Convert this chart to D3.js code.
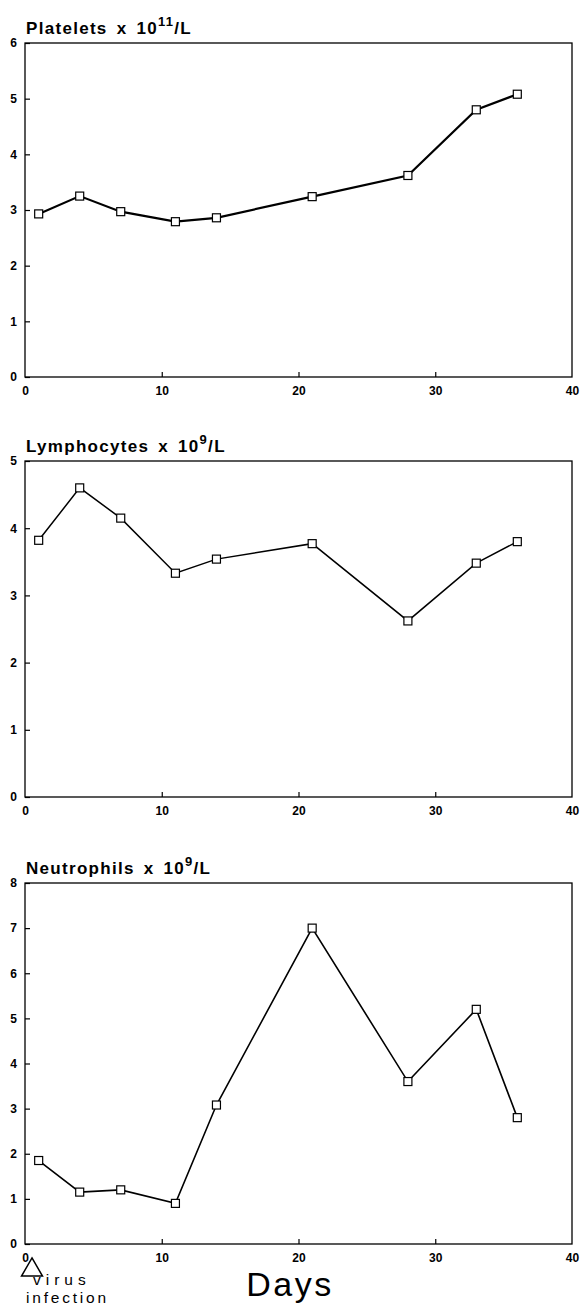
<!DOCTYPE html>
<html>
<head>
<meta charset="utf-8">
<script src="https://cdn.jsdelivr.net/npm/d3@7"></script>
<style>
  body { margin: 0; background: #fff; }
  svg { display: block; }
  text { font-family: "Liberation Sans", Arial, sans-serif; fill: #000; }
</style>
</head>
<body>
<svg width="580" height="1306"></svg>
<script>
// days after infection (same for all three panels)
var days = [1, 4, 7, 11, 14, 21, 28, 33, 36];

var platelets = [2.93, 3.25, 2.97, 2.79, 2.86, 3.24, 3.62, 4.80, 5.08];
var lymphocytes = [3.82, 4.60, 4.15, 3.33, 3.54, 3.77, 2.62, 3.48, 3.80];
var neutrophils = [1.85, 1.15, 1.20, 0.90, 3.08, 7.00, 3.60, 5.20, 2.80];

var titles = ['Platelets x 10', 'Lymphocytes x 10', 'Neutrophils x 10'];
var exponents = ['11', '9', '9'];
var yMax = [6, 5, 8];
var xTicks = [0, 10, 20, 30, 40];

// panel boxes (top and bottom pixel of each plot)
var panels = [
  { values: platelets, top: 43, bottom: 377, lineW: 2.2 },
  { values: lymphocytes, top: 461, bottom: 797, lineW: 1.5 },
  { values: neutrophils, top: 883, bottom: 1244, lineW: 1.6 }
];

var svg = d3.select('svg');
var x = d3.scaleLinear().domain([0, 40]).range([25, 572]);

panels.forEach(function (p, i) {
  var y = d3.scaleLinear().domain([0, yMax[i]]).range([p.bottom, p.top]);
  var g = svg.append('g');

  // frame
  g.append('rect')
    .attr('x', x(0)).attr('y', p.top)
    .attr('width', x(40) - x(0)).attr('height', p.bottom - p.top)
    .attr('fill', 'none').attr('stroke', '#000').attr('stroke-width', 1.3);

  // y axis, ticks point inward
  var yAxis = g.append('g')
    .attr('transform', 'translate(' + x(0) + ',0)')
    .call(d3.axisLeft(y).ticks(yMax[i]).tickSize(-5).tickPadding(8).tickFormat(d3.format('d')));
  yAxis.select('.domain').remove();
  yAxis.selectAll('line').attr('stroke-width', 1.2);
  yAxis.selectAll('text')
    .attr('font-size', 12).attr('font-weight', 'bold');

  // x axis
  var xAxis = g.append('g')
    .attr('transform', 'translate(0,' + p.bottom + ')')
    .call(d3.axisBottom(x).tickValues(xTicks).tickSize(-5).tickPadding(9).tickFormat(d3.format('d')));
  xAxis.select('.domain').remove();
  xAxis.selectAll('line').attr('stroke-width', 1.2)
    .filter(function (d) { return d === 0 || d === 40; }).remove();
  xAxis.selectAll('text')
    .attr('font-size', 12).attr('font-weight', 'bold');

  // title with superscript
  var t = g.append('text')
    .attr('x', 26).attr('y', p.top - 9)
    .attr('font-size', 17).attr('font-weight', 'bold')
    .attr('letter-spacing', 1.3).attr('word-spacing', 3);
  t.append('tspan').text(titles[i]);
  t.append('tspan').attr('dy', -8).attr('font-size', 13).text(exponents[i]);
  t.append('tspan').attr('dy', 8).text('/L');

  // line and markers
  var line = d3.line()
    .x(function (d, j) { return x(days[j]); })
    .y(function (d) { return y(d); });

  g.append('path')
    .datum(p.values)
    .attr('d', line)
    .attr('fill', 'none').attr('stroke', '#000').attr('stroke-width', p.lineW);

  g.selectAll('rect.pt')
    .data(p.values)
    .enter().append('rect')
    .attr('class', 'pt')
    .attr('x', function (d, j) { return x(days[j]) - 4; })
    .attr('y', function (d) { return y(d) - 4; })
    .attr('width', 8).attr('height', 8)
    .attr('fill', '#fff').attr('stroke', '#000').attr('stroke-width', 1.2);
});

// infection marker under day 0
svg.append('path')
  .attr('d', d3.symbol().type(d3.symbolTriangle).size(190)())
  .attr('transform', 'translate(' + (x(0) + 7) + ',1270)')
  .attr('fill', 'none').attr('stroke', '#000').attr('stroke-width', 1.5);

svg.append('text')
  .attr('x', 33).attr('y', 1285)
  .attr('font-size', 15.5).attr('letter-spacing', 5)
  .text('virus');
svg.append('text')
  .attr('x', 26).attr('y', 1303)
  .attr('font-size', 15.5).attr('letter-spacing', 2.8)
  .text('infection');

svg.append('text')
  .attr('x', 290).attr('y', 1296)
  .attr('text-anchor', 'middle')
  .attr('font-size', 34).attr('letter-spacing', 2.5)
  .text('Days');
</script>
</body>
</html>
